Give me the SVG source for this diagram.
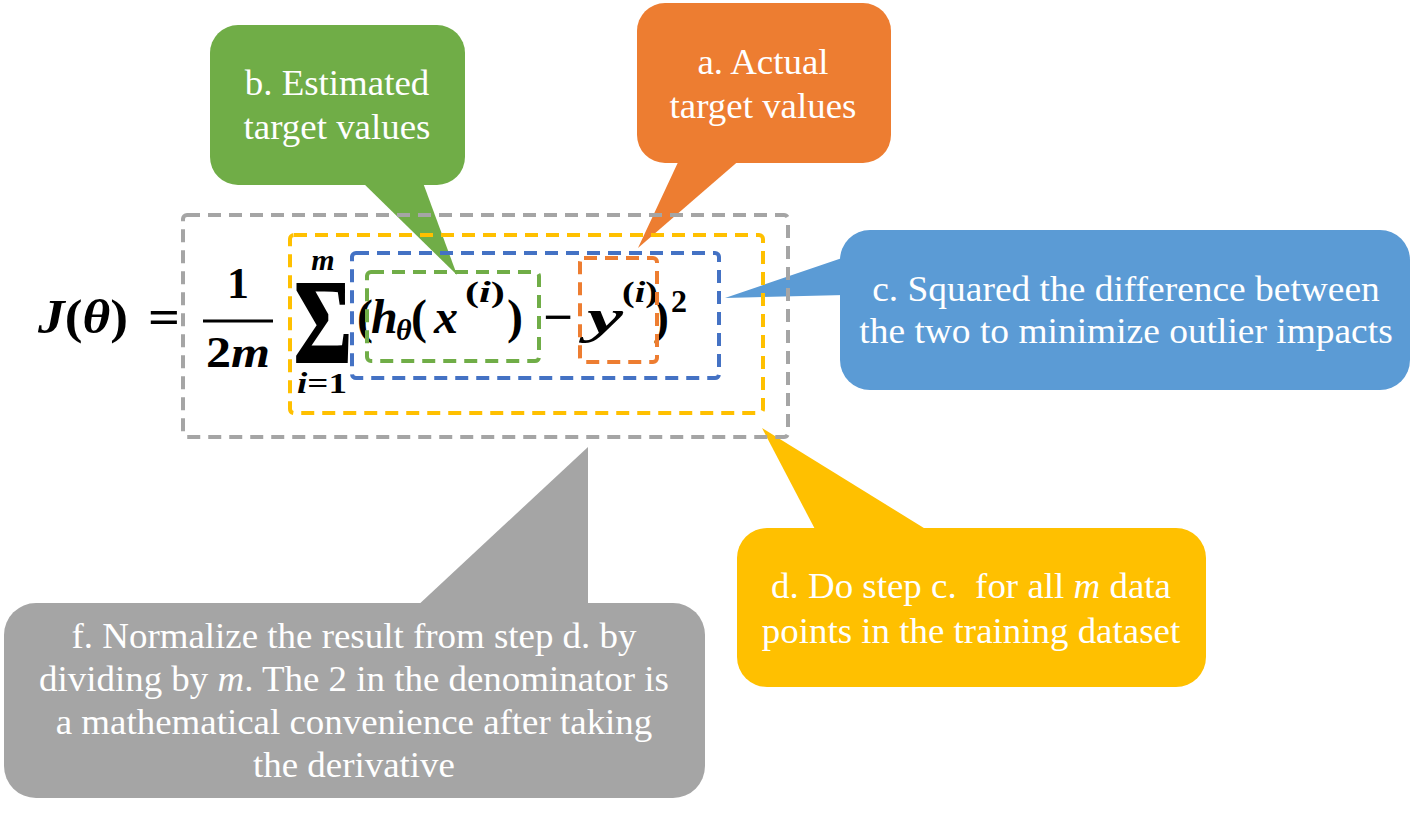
<svg xmlns="http://www.w3.org/2000/svg" width="1416" height="813" viewBox="0 0 1416 813">
<style>
.lbl{font-family:"Liberation Serif","Times New Roman",serif;font-size:35px;fill:#fff;text-anchor:middle}
.it{font-style:italic}
.eq{font-family:"Liberation Serif","Times New Roman",serif;font-weight:bold;fill:#000}
.bi{font-style:italic}
.dash{fill:none;stroke-width:4;stroke-dasharray:13 8;stroke-linejoin:round}
</style>
<rect width="1416" height="813" fill="#fff"/>
<g id="connectors">
  <polygon points="360,180 422,180 457,275" fill="#70AD47"/>
  <polygon points="680,158 742,158 638,248" fill="#ED7D31"/>
  <polygon points="845,257 725,298 845,295" fill="#5B9BD5"/>
  <polygon points="817,533 932,533 762,428" fill="#FFC000"/>
  <polygon points="415,608 588,608 588,447" fill="#A5A5A5"/>
</g>
<g id="callout-b">
  <rect x="210" y="25" width="255" height="160" rx="28" fill="#70AD47"/>
  <g transform="translate(337,0) scale(1.055,1)">
    <text class="lbl" x="0" y="95">b. Estimated</text>
    <text class="lbl" x="0" y="139">target values</text>
  </g>
</g>
<g id="callout-a">
  <rect x="637" y="3" width="254" height="160" rx="28" fill="#ED7D31"/>
  <g transform="translate(763,0) scale(1.055,1)">
    <text class="lbl" x="0" y="74">a. Actual</text>
    <text class="lbl" x="0" y="118">target values</text>
  </g>
</g>
<g id="callout-c">
  <rect x="840" y="230" width="570" height="160" rx="30" fill="#5B9BD5"/>
  <g transform="translate(1126,0) scale(1.07,1)">
    <text class="lbl" x="0" y="301">c. Squared the difference between</text>
    <text class="lbl" x="0" y="343">the two to minimize outlier impacts</text>
  </g>
</g>
<g id="callout-d">
  <rect x="737" y="528" width="469" height="159" rx="30" fill="#FFC000"/>
  <g transform="translate(971,0) scale(1.055,1)">
    <text class="lbl" x="0" y="598">d. Do step c.&#160; for all <tspan class="it">m</tspan> data</text>
    <text class="lbl" x="0" y="643">points in the training dataset</text>
  </g>
</g>
<g id="callout-f">
  <rect x="4" y="603" width="701" height="195" rx="32" fill="#A5A5A5"/>
  <g transform="translate(354,0) scale(1.055,1)">
    <text class="lbl" x="0" y="648">f. Normalize the result from step d. by</text>
    <text class="lbl" x="0" y="691">dividing by <tspan class="it">m</tspan>. The 2 in the denominator is</text>
    <text class="lbl" x="0" y="734">a mathematical convenience after taking</text>
    <text class="lbl" x="0" y="777">the derivative</text>
  </g>
</g>
<g id="equation" class="eq">
  <text x="38" y="333" font-size="48" textLength="90" lengthAdjust="spacingAndGlyphs"><tspan class="bi">J</tspan>(<tspan class="bi">θ</tspan>)</text>
  <text x="148" y="333" font-size="48" textLength="32" lengthAdjust="spacingAndGlyphs">=</text>
  <text x="238" y="298" font-size="44" text-anchor="middle">1</text>
  <rect x="203" y="319.5" width="70" height="3" fill="#000"/>
  <text x="206" y="367" font-size="44" textLength="64" lengthAdjust="spacingAndGlyphs">2<tspan class="bi">m</tspan></text>
  <text x="294" y="362" font-size="119" textLength="58" lengthAdjust="spacingAndGlyphs" stroke="#000" stroke-width="2">Σ</text>
  <text x="323" y="270" font-size="30" text-anchor="middle" class="bi">m</text>
  <text x="297" y="393" font-size="30" textLength="50" lengthAdjust="spacingAndGlyphs"><tspan class="bi">i</tspan>=1</text>
  <text x="357" y="333" font-size="48">(<tspan x="371" class="bi">h</tspan><tspan x="396" dy="7" font-size="30" class="bi">θ</tspan><tspan x="411" dy="-7">(</tspan><tspan x="434" class="bi">x</tspan></text>
  <text x="465" y="302" font-size="30" textLength="40" lengthAdjust="spacingAndGlyphs">(<tspan class="bi">i</tspan>)</text>
  <text x="507" y="333" font-size="48">)</text>
  <text x="543" y="333" font-size="48" textLength="30" lengthAdjust="spacingAndGlyphs">−</text>
  <text x="587" y="333" font-size="48" class="bi" textLength="36" lengthAdjust="spacingAndGlyphs">y</text>
  <text x="622" y="302" font-size="30" textLength="36" lengthAdjust="spacingAndGlyphs">(<tspan class="bi">i</tspan>)</text>
  <text x="653" y="333" font-size="48">)</text>
  <text x="671" y="312" font-size="32">2</text>
</g>
<g id="highlights">
  <rect id="box-f" class="dash" x="183" y="215" width="605" height="222" rx="4" stroke="#A5A5A5"/>
  <rect id="box-d" class="dash" x="290" y="235" width="473" height="178" rx="4" stroke="#FFC000"/>
  <rect id="box-c" class="dash" x="352" y="253" width="367" height="125" rx="4" stroke="#4472C4"/>
  <rect id="box-b" class="dash" x="367" y="272" width="172" height="89" rx="4" stroke="#70AD47"/>
  <rect id="box-a" class="dash" x="580" y="258" width="77" height="104" rx="4" stroke="#ED7D31"/>
</g>
</svg>
